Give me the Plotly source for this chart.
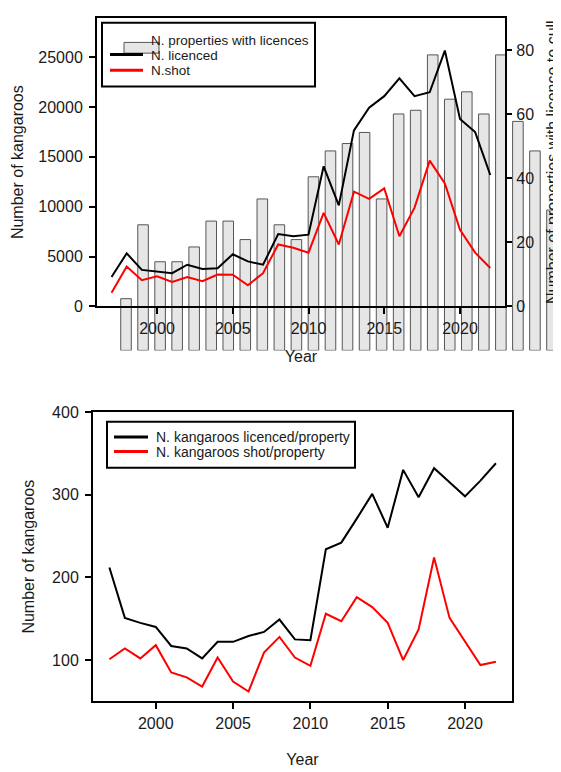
import plotly.graph_objects as go

years = list(range(1997, 2023))
properties = [14, 34, 24, 24, 28, 35, 35, 30, 41, 34, 30, 47, 54, 56, 59, 41,
              64, 65, 80, 68, 70, 64, 80, 62, 54, 38]
licenced = [2940, 5320, 3660, 3500, 3330, 4180, 3760, 3820, 5230, 4510, 4180, 7250, 7030,
            7190, 14050, 10130, 17650, 19930, 21080, 22870, 21080, 21470, 25650, 18790, 17480, 13170]
shot = [1370, 3990, 2620, 3010, 2450, 2940, 2520, 3200, 3170, 2120, 3330, 6210, 5880,
        5390, 9380, 6210, 11500, 10780, 11830, 7030, 9900, 14610, 12320, 7680, 5390, 3850]
lic_pp = [212, 151, 145, 140, 117, 114, 102, 122, 122, 129, 134, 149, 125, 124, 234, 242,
          271, 301, 260, 330, 297, 332, 315, 298, 317, 338]
shot_pp = [101, 114, 102, 118, 85, 79, 68, 103, 74, 62, 109, 128, 103, 93, 156, 147,
           176, 164, 145, 100, 137, 224, 151, 123, 94, 98]

top_legend = ["N. properties with licences", "N. licenced", "N.shot"]
bottom_legend = ["N. kangaroos licenced/property", "N. kangaroos shot/property"]

# the page body has an 8px default margin: figure is sized to end at the window edge
OFF = 8
W, H = 561 - OFF, 772 - OFF
FONT = "Liberation Sans, Arial, sans-serif"
TXT = "#1a1a1a"
BAR_FILL, BAR_LINE = "#e6e6e6", "#555555"
RED = "#ff0000"


def fx(px):
    return (px - OFF) / W


def fy(py):
    return (H - (py - OFF)) / H


def px_x(a, b):
    return [fx(a), fx(b)]


def px_y(top, bottom):
    return [fy(bottom), fy(top)]


fig = go.Figure()

# bars (separate, offset subplot as in the original)
fig.add_trace(go.Bar(x=years, y=properties, xaxis="x", yaxis="y",
                     name=top_legend[0], width=0.62,
                     marker=dict(color=BAR_FILL, line=dict(color=BAR_LINE, width=1))))
# carrier for the right-hand axis (not drawn)
fig.add_trace(go.Scatter(x=years, y=properties, xaxis="x2", yaxis="y3", mode="lines",
                         line=dict(width=0), opacity=0, hoverinfo="skip"))
# top lines
fig.add_trace(go.Scatter(x=years, y=licenced, xaxis="x2", yaxis="y2", mode="lines",
                         name=top_legend[1], line=dict(color="black", width=2)))
fig.add_trace(go.Scatter(x=years, y=shot, xaxis="x2", yaxis="y2", mode="lines",
                         name=top_legend[2], line=dict(color=RED, width=2)))
# bottom lines
fig.add_trace(go.Scatter(x=years, y=lic_pp, xaxis="x4", yaxis="y4", mode="lines",
                         name=bottom_legend[0], line=dict(color="black", width=2)))
fig.add_trace(go.Scatter(x=years, y=shot_pp, xaxis="x4", yaxis="y4", mode="lines",
                         name=bottom_legend[1], line=dict(color=RED, width=2)))

tickfont = dict(family=FONT, size=16, color=TXT)
titlefont = dict(family=FONT, size=16, color=TXT)
common = dict(showline=True, linecolor="black", ticks="outside", ticklen=6,
              tickwidth=1.5, tickcolor="black", tickfont=tickfont,
              showgrid=False, zeroline=False, tickformat="d")

# ---- legend boxes drawn as shapes + text ----
shapes = []
annotations = []


def box(x0, y0, x1, y1):
    shapes.append(dict(type="rect", xref="paper", yref="paper", layer="above",
                       x0=fx(x0), x1=fx(x1), y0=fy(y1), y1=fy(y0),
                       line=dict(color="black", width=2), fillcolor="white"))


def swatch_line(x0, x1, y, color):
    shapes.append(dict(type="line", xref="paper", yref="paper", layer="above",
                       x0=fx(x0), x1=fx(x1), y0=fy(y), y1=fy(y),
                       line=dict(color=color, width=3)))


def label(x, y, text, size):
    annotations.append(dict(xref="paper", yref="paper", x=fx(x), y=fy(y), text=text,
                            showarrow=False, xanchor="left", yanchor="middle",
                            font=dict(family=FONT, size=size, color=TXT)))


# top legend
box(102, 15, 315, 80)
shapes.append(dict(type="rect", xref="paper", yref="paper", layer="above",
                   x0=fx(124), x1=fx(159), y0=fy(46), y1=fy(35),
                   line=dict(color=BAR_LINE, width=1), fillcolor=BAR_FILL))
swatch_line(110, 143, 47.5, "black")
swatch_line(110, 143, 63.5, RED)
label(149, 33, top_legend[0], 13.5)
label(149, 48, top_legend[1], 13.5)
label(149, 64, top_legend[2], 13.5)

# bottom legend
box(107, 423, 355, 470)
swatch_line(114, 148, 438.5, "black")
swatch_line(114, 148, 453.5, RED)
label(154, 438.5, bottom_legend[0], 14)
label(154, 454, bottom_legend[1], 14)

fig.update_layout(
    width=W, height=H, autosize=False,
    margin=dict(l=0, r=0, t=0, b=0),
    paper_bgcolor="white", plot_bgcolor="rgba(0,0,0,0)",
    font=dict(family=FONT, color=TXT),
    showlegend=False,
    shapes=shapes, annotations=annotations,
    xaxis=dict(domain=px_x(117.5, 560.5), range=[1996.5, 2022.5], visible=False,
               anchor="y"),
    yaxis=dict(domain=px_y(10, 350), range=[0, 90], visible=False, anchor="x"),
    xaxis2=dict(domain=px_x(97, 505), range=[1996.04, 2022.97], anchor="y2",
                linewidth=2, mirror=True,
                tickvals=[2000, 2005, 2010, 2015, 2020],
                title=dict(text="Year", font=titlefont, standoff=15), **common),
    yaxis2=dict(domain=px_y(10, 305), range=[0, 28920], anchor="x2",
                linewidth=2, mirror=True, ticklabelstandoff=3,
                tickvals=[0, 5000, 10000, 15000, 20000, 25000],
                title=dict(text="Number of kangaroos", font=titlefont, standoff=11),
                **common),
    yaxis3=dict(overlaying="y2", side="right", anchor="x2", range=[0, 90.08],
                linewidth=1.2, ticklabelstandoff=1, tickvals=[0, 20, 40, 60, 80],
                title=dict(text="Number of properties with licence to cull",
                           font=titlefont, standoff=14), **common),
    xaxis4=dict(domain=px_x(93, 512), range=[1995.94, 2023.04], anchor="y4",
                linewidth=2, mirror=True,
                tickvals=[2000, 2005, 2010, 2015, 2020],
                title=dict(text="Year", font=titlefont, standoff=23), **common),
    yaxis4=dict(domain=px_y(413, 709), range=[50, 400], anchor="x4",
                linewidth=2, mirror=True, ticklabelstandoff=3,
                tickvals=[100, 200, 300, 400],
                title=dict(text="Number of kangaroos", font=titlefont, standoff=13),
                **common),
)

fig.write_html("out.html")
